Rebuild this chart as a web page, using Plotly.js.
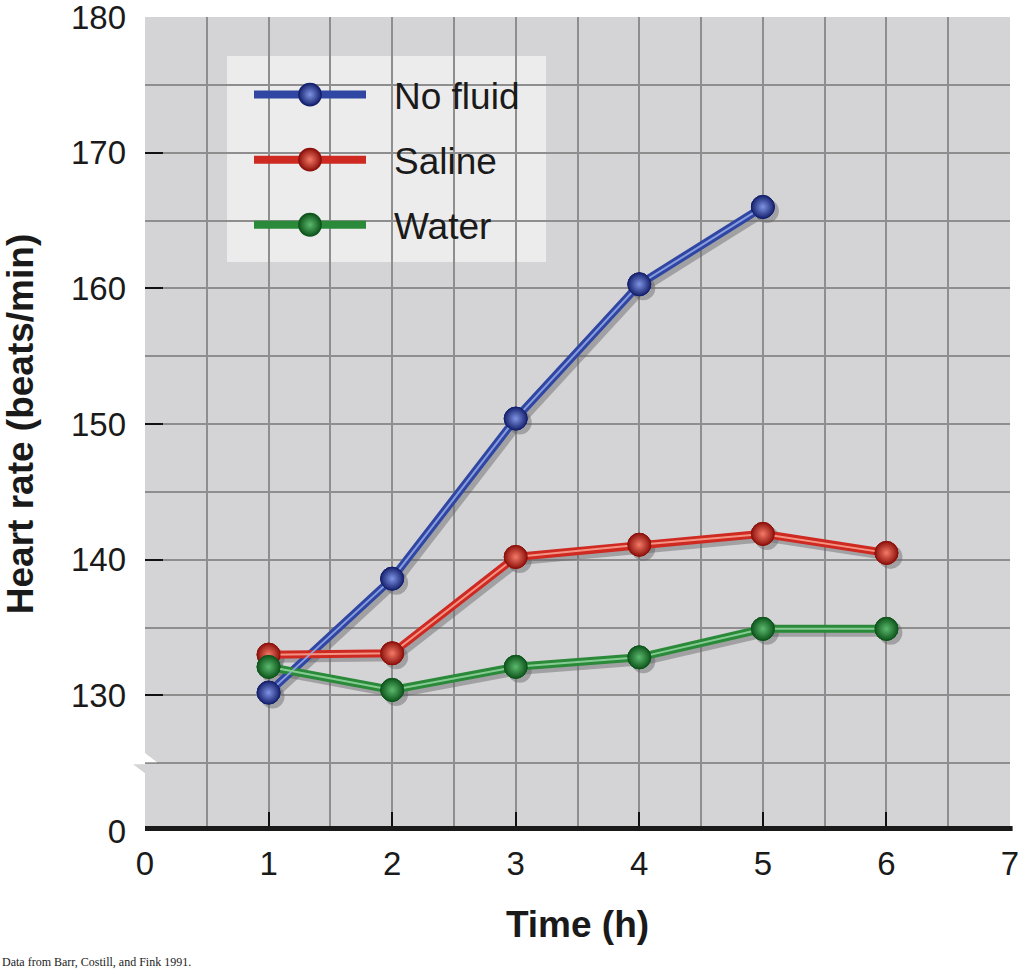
<!DOCTYPE html>
<html>
<head>
<meta charset="utf-8">
<script src="https://cdn.plot.ly/plotly-3.0.1.min.js"></script>
<style>
  html, body { margin: 0; padding: 0; background: #ffffff; }
  #chart { width: 1024px; height: 970px; }
</style>
</head>
<body>
<div id="chart"></div>
<script>
// ---- data ----
const timeHours = [1, 2, 3, 4, 5, 6];
const noFluidTime = [1, 2, 3, 4, 5];
const noFluidHR = [130.2, 138.6, 150.4, 160.3, 166.0];
const salineHR = [133.0, 133.1, 140.2, 141.1, 141.9, 140.5];
const waterHR = [132.1, 130.4, 132.1, 132.8, 134.9, 134.9];
const seriesNames = ['No fluid', 'Saline', 'Water'];
// y tick positions (axis is broken: the "0" sits at 120)
const yTickVals = [120, 130, 140, 150, 160, 170, 180];
const yTickText = ['0', '130', '140', '150', '160', '170', '180'];
const xTickVals = [0, 1, 2, 3, 4, 5, 6, 7];

// ---- styles ----
const FONT = 'Liberation Sans, Arial, Helvetica, sans-serif';
const palette = [
  {dark: '#2f47a2', light: '#8a9de0', edge: '#16226e', hi: '#7f94e4'},
  {dark: '#cf2a22', light: '#f39484', edge: '#8e120c', hi: '#f47a68'},
  {dark: '#2a8a3a', light: '#86cc92', edge: '#0e561c', hi: '#5cba6e'}
];
const xs = [noFluidTime, timeHours, timeHours];
const ys = [noFluidHR, salineHR, waterHR];

const traces = [];
// shadows on the hidden (shifted) axes x / y
for (let i = 0; i < 3; i++) {
  traces.push({
    x: xs[i], y: ys[i], type: 'scatter', mode: 'lines+markers',
    xaxis: 'x', yaxis: 'y', showlegend: false, hoverinfo: 'skip',
    line: {color: 'rgba(100,100,105,0.45)', width: 8},
    marker: {size: 24, color: 'rgba(100,100,105,0.45)', line: {width: 0}}
  });
}
// main tube lines with markers (legend entries)
for (let i = 0; i < 3; i++) {
  traces.push({
    x: xs[i], y: ys[i], type: 'scatter', mode: 'lines+markers',
    name: seriesNames[i], legendgroup: 'g' + i,
    xaxis: 'x2', yaxis: 'y2',
    line: {color: palette[i].dark, width: 8},
    marker: {size: 23, color: palette[i].edge,
             gradient: {type: 'radial', color: palette[i].hi},
             line: {width: 1, color: palette[i].edge}}
  });
}
// light centre stripe
for (let i = 0; i < 3; i++) {
  traces.push({
    x: xs[i], y: ys[i], type: 'scatter', mode: 'lines',
    legendgroup: 'g' + i, showlegend: false, hoverinfo: 'skip',
    xaxis: 'x2', yaxis: 'y2',
    line: {color: palette[i].light, width: 2}
  });
}
// markers on top
for (let i = 0; i < 3; i++) {
  traces.push({
    x: xs[i], y: ys[i], type: 'scatter', mode: 'markers',
    legendgroup: 'g' + i, showlegend: false,
    xaxis: 'x2', yaxis: 'y2',
    marker: {size: 23, color: palette[i].edge,
             gradient: {type: 'radial', color: palette[i].hi},
             line: {width: 1, color: palette[i].edge}}
  });
}

const plotW = 865, plotH = 814;
const shX = 4 / plotW * 7, shY = 4 / plotH * 60;

const layout = {
  width: 1024, height: 970,
  margin: {l: 145, r: 14, t: 17, b: 139},
  paper_bgcolor: '#ffffff',
  plot_bgcolor: '#d4d4d6',
  showlegend: true,
  legend: {
    x: 104 / plotW, y: 767 / plotH, xanchor: 'left', yanchor: 'top',
    bgcolor: 'rgba(0,0,0,0)', borderwidth: 0,
    font: {family: FONT, size: 37, color: '#1a1a1a'},
    itemwidth: 135, tracegroupgap: 14, itemsizing: 'trace'
  },
  xaxis: {
    range: [-shX, 7 - shX], showgrid: false, zeroline: false,
    showticklabels: false, ticks: '', fixedrange: true
  },
  yaxis: {
    range: [120 + shY, 180 + shY], showgrid: false, zeroline: false,
    showticklabels: false, ticks: '', fixedrange: true
  },
  xaxis2: {
    overlaying: 'x', side: 'bottom', anchor: 'y2',
    range: [0, 7], tickmode: 'array', tickvals: xTickVals,
    ticks: 'inside', ticklen: 19, tickwidth: 2, tickcolor: '#111',
    showgrid: true, gridcolor: '#8e8e8e', gridwidth: 2,
    minor: {dtick: 0.5, tick0: 0, showgrid: true, gridcolor: '#8e8e8e', gridwidth: 2, ticks: ''},
    zeroline: false, showline: false, ticklabelstandoff: 10, ticklabeloverflow: 'allow',
    tickfont: {family: FONT, size: 33, color: '#1a1a1a'},
    title: {text: '<b>Time (h)</b>', font: {family: FONT, size: 37, color: '#1a1a1a'}, standoff: 30}
  },
  yaxis2: {
    overlaying: 'y', side: 'left', anchor: 'x2',
    range: [120, 180], tickmode: 'array', tickvals: yTickVals, ticktext: yTickText,
    ticks: 'inside', ticklen: 18, tickwidth: 2, tickcolor: '#111',
    showgrid: true, gridcolor: '#8e8e8e', gridwidth: 2,
    minor: {dtick: 5, tick0: 120, showgrid: true, gridcolor: '#8e8e8e', gridwidth: 2, ticks: ''},
    zeroline: false, showline: false, ticklabelstandoff: 18, ticklabeloverflow: 'allow',
    tickfont: {family: FONT, size: 33, color: '#1a1a1a'},
    title: {text: '<b>Heart rate (beats/min)</b>', font: {family: FONT, size: 37, color: '#1a1a1a'}, standoff: 26}
  },
  shapes: [
    // legend panel
    {type: 'rect', xref: 'paper', yref: 'paper', x0: 82 / plotW, x1: 401 / plotW,
     y0: 569 / plotH, y1: 775 / plotH, fillcolor: 'rgba(255,255,255,0.55)',
     line: {width: 0}, layer: 'between'},
    // heavy x axis bar
    {type: 'line', xref: 'paper', yref: 'y2', x0: 0, x1: 1.003, y0: 120, y1: 120,
     line: {color: '#1a1a1a', width: 10}, layer: 'above'},
    // axis break: white notch
    {type: 'path', xref: 'paper', yref: 'y2', xsizemode: 'pixel', ysizemode: 'pixel',
     xanchor: 0, yanchor: 125, path: 'M -1 11 L 12 1 L -1 1 Z',
     fillcolor: '#ffffff', line: {width: 0}, layer: 'above'},
    {type: 'path', xref: 'paper', yref: 'y2', xsizemode: 'pixel', ysizemode: 'pixel',
     xanchor: 0, yanchor: 125, path: 'M 0 -1 L -12 -1 L 0 -10 Z',
     fillcolor: '#d4d4d6', line: {width: 0}, layer: 'above'}
  ],
  annotations: [
    {text: 'Data from Barr, Costill, and Fink 1991.', xref: 'paper', yref: 'paper',
     x: -145 / plotW, y: -131 / plotH, xanchor: 'left', yanchor: 'middle', showarrow: false,
     font: {family: 'Liberation Serif, Times New Roman, serif', size: 12, color: '#222'}}
  ]
};

Plotly.newPlot('chart', traces, layout, {displayModeBar: false, staticPlot: true}).then(function (gd) {
  // shorten the legend sample lines and enlarge their sphere, as in the original key
  try {
    gd.querySelectorAll('.legend .traces').forEach(function (item) {
      const ln = item.querySelector('.legendlines path');
      if (ln) {
        const bb = ln.getBBox();
        const s = 112 / bb.width;
        ln.setAttribute('transform', 'translate(' + bb.x + ',0) scale(' + s + ',1) translate(' + (-bb.x) + ',0)');
        const newCenter = bb.x + 56;
        const pts = item.querySelectorAll('.legendpoints path.scatterpts');
        pts.forEach(function (p) {
          p.setAttribute('transform', 'translate(' + newCenter + ',0) scale(1.4)');
        });
      }
    });
  } catch (e) { /* keep default legend */ }
});
</script>
</body>
</html>
